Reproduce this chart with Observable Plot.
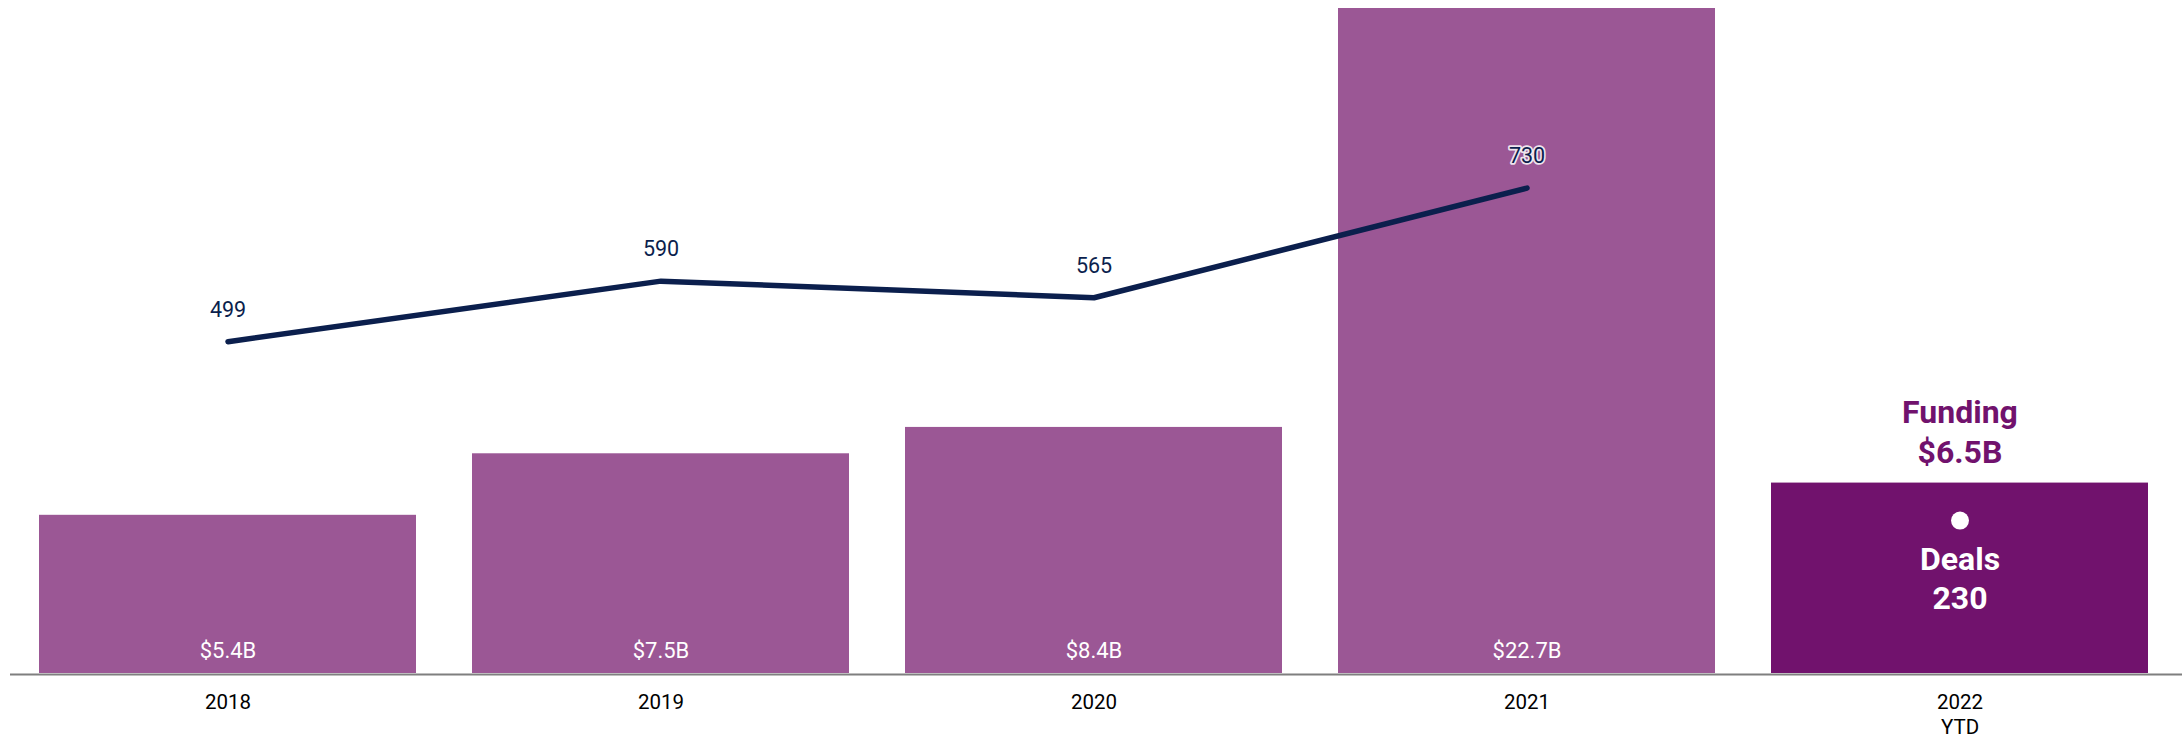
<!DOCTYPE html>
<html>
<head>
<meta charset="utf-8">
<script src="https://cdn.jsdelivr.net/npm/d3@7"></script>
<script src="https://cdn.jsdelivr.net/npm/@observablehq/plot@0.6"></script>
<style>
  html, body { margin: 0; padding: 0; background: #ffffff; }
  #chart svg { display: block; }
</style>
</head>
<body>
<div id="chart"></div>
<script>
// ---- data ----
const years = ["2018", "2019", "2020", "2021", "2022"];
const yearLabels = ["2018", "2019", "2020", "2021", "2022\nYTD"];
const funding = [5.4, 7.5, 8.4, 22.7, 6.5];          // $B
const fundingLabels = ["$5.4B", "$7.5B", "$8.4B", "$22.7B", "$6.5B"];
const deals = [499, 590, 565, 730, 230];
const dealsAxisMax = 1000;      // deals axis top (secondary axis)
const fundingAxisMax = 22.7;    // funding axis top

const rows = years.map((y, i) => ({
  year: y,
  label: yearLabels[i],
  funding: funding[i],
  fundingLabel: fundingLabels[i],
  deals: deals[i],
  dealsScaled: deals[i] * fundingAxisMax / dealsAxisMax,
  ytd: i === years.length - 1
}));
const history = rows.filter(d => !d.ytd);
const current = rows.filter(d => d.ytd);

const lightPurple = "#9b5795";
const darkPurple = "#71126d";
const navy = "#0b1f4d";

const chart = Plot.plot({
  width: 2182,
  height: 738,
  marginLeft: 10,
  marginRight: 0,
  marginTop: 8,
  marginBottom: 65,
  style: { fontFamily: "Roboto, 'Noto Sans', sans-serif", background: "#ffffff" },
  x: { domain: years, paddingInner: 0.13, paddingOuter: 0.0685, align: 0.465, axis: null },
  y: { domain: [0, fundingAxisMax], axis: null },
  marks: [
    Plot.barY(rows, { x: "year", y: "funding", fill: d => d.ytd ? darkPurple : lightPurple }),
    Plot.ruleY([0], { stroke: "#7f7f7f", strokeWidth: 2, dy: 1 }),
    // bar value labels (history)
    Plot.text(history, {
      x: "year", y: 0, text: "fundingLabel", fill: "#ffffff",
      fontSize: 22, fontWeight: 400, lineAnchor: "bottom", dy: -16
    }),
    // deals line
    Plot.line(history, {
      x: "year", y: "dealsScaled", stroke: navy, strokeWidth: 5.5,
      strokeLinecap: "round", strokeLinejoin: "round"
    }),
    Plot.text(history, {
      x: "year", y: "dealsScaled", text: d => String(d.deals), fill: navy,
      fontSize: 21.5, lineAnchor: "bottom", dy: -25,
      stroke: "#ffffff", strokeWidth: 3.5, strokeOpacity: 0.85
    }),
    // YTD annotations
    Plot.text(current, {
      x: "year", y: "funding", text: d => "Funding\n" + d.fundingLabel,
      fill: darkPurple, fontSize: 32, fontWeight: 700,
      lineAnchor: "bottom", lineHeight: 1.25, dy: -20
    }),
    Plot.dot(current, { x: "year", y: "dealsScaled", r: 9, fill: "#ffffff", stroke: null }),
    Plot.text(current, {
      x: "year", y: "dealsScaled", text: d => "Deals\n" + d.deals,
      fill: "#ffffff", fontSize: 32, fontWeight: 700,
      lineAnchor: "top", lineHeight: 1.22, dy: 22
    }),
    // x tick labels
    Plot.text(rows, {
      x: "year", frameAnchor: "bottom", text: "label", fill: "#000000",
      fontSize: 20.5, lineAnchor: "top", lineHeight: 1.22, dy: 18
    })
  ]
});
document.getElementById("chart").appendChild(chart);
</script>
</body>
</html>
